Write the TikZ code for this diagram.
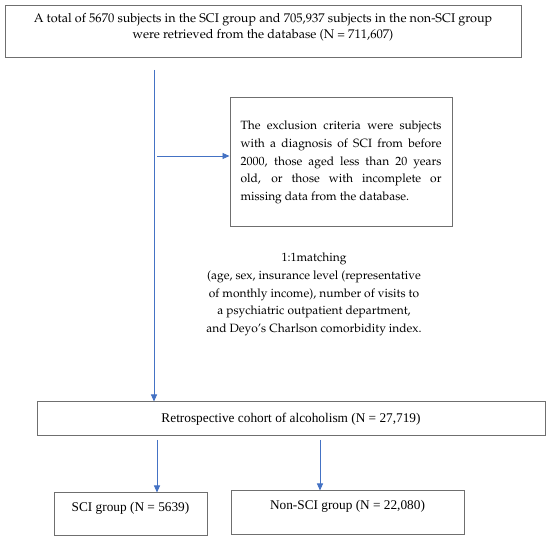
\documentclass[tikz,border=0pt]{standalone}
\usepackage[T1]{fontenc}
\usepackage{fontspec}
\setmainfont{Liberation Serif}
\usetikzlibrary{arrows.meta}
\newcommand{\palfont}{\fontencoding{T1}\fontfamily{ppl}\selectfont}
\definecolor{arrblue}{HTML}{4472C4}
\definecolor{boxgray}{HTML}{6F6F6F}
\begin{document}
\begin{tikzpicture}[x=1pt,y=-1pt,
  box/.style={draw=boxgray,line width=1pt,inner sep=0pt},
  arr/.style={draw=arrblue,line width=0.9pt,-{Triangle[length=7pt,width=6pt]}},
  pal/.style={font=\palfont\fontsize{12}{17.6}\selectfont},
  paltop/.style={font=\palfont\fontsize{12.6}{16.5}\selectfont},
  tms/.style={font=\fontsize{13.3}{16}\selectfont}]
\useasboundingbox (0,0) rectangle (550,540);
\fill[white] (0,0) rectangle (550,540);
% top box
\node[box,minimum width=516pt,minimum height=52pt] (top) at (263,32) {};
\node[paltop,align=center,inner sep=0pt] (toptext) at (263,27.5) {A total of 5670 subjects in the SCI group and 705,937 subjects in the non-SCI group\\were retrieved from the database (N = 711,607)};
% exclusion box
\node[box,minimum width=222pt,minimum height=129pt,text width=201pt,align=justify,pal] (excl) at (341,162.5) {The exclusion criteria were subjects\linebreak with a diagnosis of SCI from before\linebreak 2000, those aged less than 20 years\linebreak old, or those with incomplete or\linebreak missing data from the database.};
% matching text
\node[pal,align=center,inner sep=0pt] (match) at (314,294.5) {1:1matching\\(age, sex, insurance level (representative\\of monthly income), number of visits to\\a psychiatric outpatient department,\\and Deyo's Charlson comorbidity index.};
% cohort box
\node[box,minimum width=508pt,minimum height=34pt,tms] (cohort) at (291,419) {Retrospective cohort of alcoholism (N = 27,719)};
% group boxes
\node[box,minimum width=153pt,minimum height=43pt] (sci) at (130.5,514.5) {};
\node[tms,inner sep=0pt] (scitext) at (130.5,508) {SCI group (N = 5639)};
\node[box,minimum width=233pt,minimum height=44pt] (nonsci) at (347.5,513) {};
\node[tms,inner sep=0pt] (nonscitext) at (347.5,506) {Non-SCI group (N = 22,080)};
% connectors
\coordinate (mainstart) at (154,70);
\coordinate (branch) at (157,156);
\coordinate (splitl) at (157,440);
\coordinate (splitr) at (320,440);
\draw[arr] (mainstart) -- (mainstart |- cohort.north);
\draw[arr] (branch) -- (excl.west |- branch);
\draw[arr] (splitl) -- (splitl |- sci.north);
\draw[arr] (splitr) -- (splitr |- nonsci.north);
\end{tikzpicture}
\end{document}
